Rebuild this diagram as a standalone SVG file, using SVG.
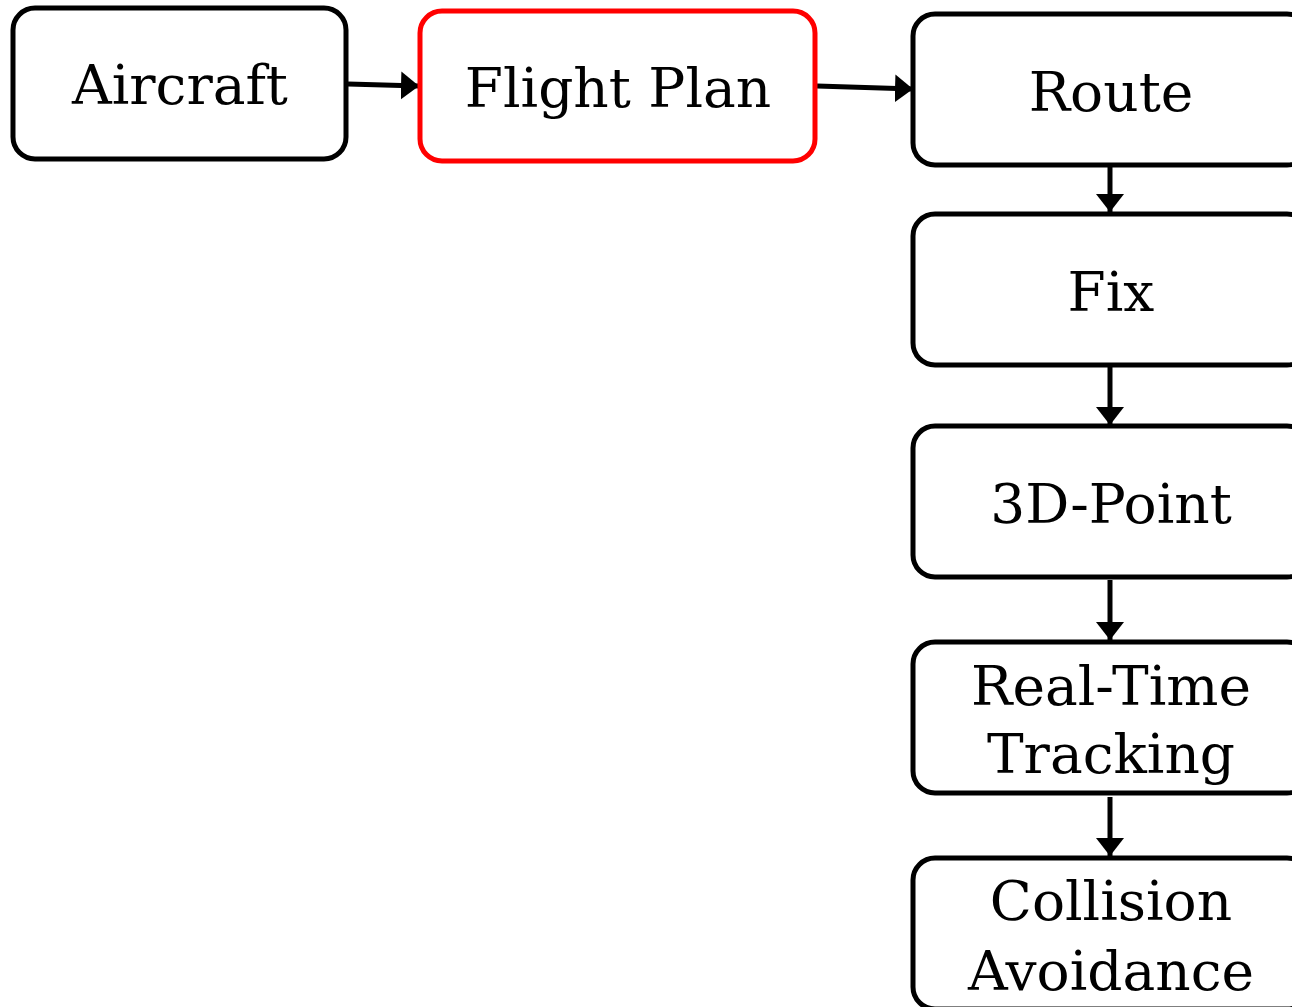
<svg xmlns="http://www.w3.org/2000/svg" width="1292" height="1007" viewBox="0 0 1292 1007">
<defs>
<style>
.box{fill:#fff;stroke:#000;stroke-width:5}
.red{stroke:#ff0000}
.lbl{font-family:"DejaVu Serif","Liberation Serif",serif;font-size:55px;fill:#000;text-anchor:middle}
.edge{stroke:#000;stroke-width:5;fill:none}
</style>
<marker id="ah" markerUnits="userSpaceOnUse" markerWidth="20" markerHeight="30" refX="18" refY="14" orient="auto">
<path d="M0,0 L18,14 L0,28 z" fill="#000"/>
</marker>
</defs>
<rect width="1292" height="1007" fill="#fff"/>
<g id="connectors">
<line class="edge" x1="348" y1="84" x2="419" y2="86" marker-end="url(#ah)"/>
<line class="edge" x1="817" y1="86" x2="913" y2="89" marker-end="url(#ah)"/>
<line class="edge" x1="1110" y1="166" x2="1110" y2="212" marker-end="url(#ah)"/>
<line class="edge" x1="1110" y1="367" x2="1110" y2="425" marker-end="url(#ah)"/>
<line class="edge" x1="1110" y1="580" x2="1110" y2="640" marker-end="url(#ah)"/>
<line class="edge" x1="1110" y1="797" x2="1110" y2="856" marker-end="url(#ah)"/>
</g>
<g id="aircraft">
<rect class="box" x="13" y="8" width="333" height="151" rx="22"/>
<text class="lbl" x="180" y="104">Aircraft</text>
</g>
<g id="flight-plan">
<rect class="box red" x="420" y="11" width="395" height="150" rx="22"/>
<text class="lbl" x="618" y="107">Flight Plan</text>
</g>
<g id="route">
<rect class="box" x="913" y="14" width="396" height="151" rx="22"/>
<text class="lbl" x="1111" y="111">Route</text>
</g>
<g id="fix">
<rect class="box" x="913" y="214" width="396" height="151" rx="22"/>
<text class="lbl" x="1111" y="311">Fix</text>
</g>
<g id="point3d">
<rect class="box" x="913" y="426" width="396" height="151" rx="22"/>
<text class="lbl" x="1111" y="523">3D-Point</text>
</g>
<g id="tracking">
<rect class="box" x="913" y="642" width="396" height="151" rx="22"/>
<text class="lbl" x="1111" y="705">Real-Time</text>
<text class="lbl" x="1111" y="773">Tracking</text>
</g>
<g id="collision">
<rect class="box" x="913" y="858" width="396" height="151" rx="22"/>
<text class="lbl" x="1111" y="920">Collision</text>
<text class="lbl" x="1111" y="990">Avoidance</text>
</g>
</svg>
